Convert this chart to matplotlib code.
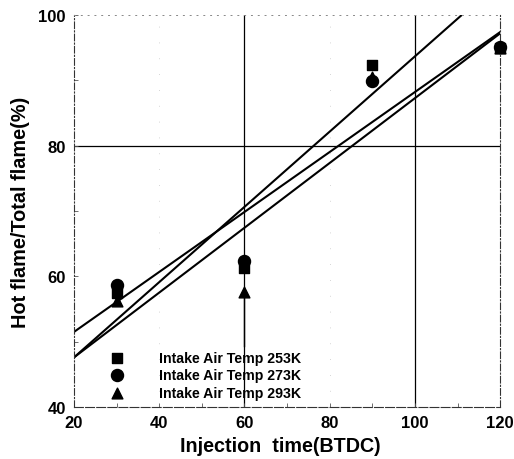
import numpy as np
import matplotlib.pyplot as plt

plt.rcParams['font.family'] = ['Liberation Sans', 'DejaVu Sans']
plt.rcParams['font.weight'] = 'bold'

inj_time = [30, 60, 90, 120]
temp_253 = [57.5, 61.3, 92.4, 95.0]
temp_273 = [58.7, 62.3, 89.9, 95.1]
temp_293 = [56.3, 57.6, 90.5, 95.0]
labels = ['Intake Air Temp 253K', 'Intake Air Temp 273K', 'Intake Air Temp 293K']

# fitted lines (value at x=20 and x=120)
fit_x = [20, 120]
fit_a = [51.5, 97.4]
fit_b = [47.6, 105.2]
fit_c = [47.6, 97.2]

# error bar on the 293K point at 60
err_x = [60, 60]
err_y = [57.6, 49.3]

fig = plt.figure(figsize=(5.14, 4.6), dpi=100)
ax = fig.add_axes([0.144, 0.113, 0.829, 0.852])

ax.axvline(60, color='black', lw=0.9, zorder=1)
ax.axvline(100, color='black', lw=0.9, zorder=1)
ax.axhline(80, color='black', lw=0.9, zorder=1)
for xv in [40, 80]:
    ax.axvline(xv, color='#c8c8c8', lw=0.6, ls=(0, (1, 18)), zorder=1)

ax.plot(fit_x, fit_a, color='black', lw=1.5, zorder=2)
ax.plot(fit_x, fit_b, color='black', lw=1.5, zorder=2)
ax.plot(fit_x, fit_c, color='black', lw=1.5, zorder=2)
ax.plot(err_x, err_y, color='black', lw=1.0, zorder=2)

ax.scatter(inj_time, temp_293, marker='^', s=60, color='black', zorder=3,
           label=labels[2], clip_on=False)
ax.scatter(inj_time, temp_253, marker='s', s=60, color='black', zorder=4,
           label=labels[0], clip_on=False)
ax.scatter(inj_time, temp_273, marker='o', s=75, color='black', zorder=5,
           label=labels[1], clip_on=False)

ax.set_xlim(20, 120)
ax.set_ylim(40, 100)
ax.set_xticks([20, 40, 60, 80, 100, 120])
ax.set_yticks([40, 60, 80, 100])
ax.set_xticks([30, 50, 70, 90, 110], minor=True)
ax.set_yticks([50, 70, 90], minor=True)
ax.tick_params(axis='both', which='both', direction='in', length=3, width=0.6,
               color='#555555', labelsize=12, pad=6)

ax.spines['left'].set_linestyle((0, (6, 2, 1, 2)))
ax.spines['right'].set_linestyle((0, (6, 2, 1, 2)))
ax.spines['top'].set_linestyle((0, (1, 6)))
ax.spines['bottom'].set_linestyle((0, (8, 2)))
for s in ['left', 'right', 'bottom']:
    ax.spines[s].set_color('#333333')
    ax.spines[s].set_linewidth(0.8)
ax.spines['top'].set_color('#888888')
ax.spines['top'].set_linewidth(0.7)

ax.set_xlabel('Injection  time(BTDC)', fontsize=14.2, fontweight='bold', labelpad=1)
ax.set_ylabel('Hot flame/Total flame(%)', fontsize=14.3, fontweight='bold', labelpad=6)
ax.xaxis.set_label_coords(0.485, -0.075)

handles, lbls = ax.get_legend_handles_labels()
order = [1, 2, 0]
ax.legend([handles[i] for i in order], [lbls[i] for i in order],
          loc='lower left', bbox_to_anchor=(0.04, -0.01), frameon=False,
          handletextpad=2.0, labelspacing=0.25, borderpad=0.3,
          prop={'weight': 'bold', 'size': 10.2})

plt.savefig('out.png', dpi=100)
